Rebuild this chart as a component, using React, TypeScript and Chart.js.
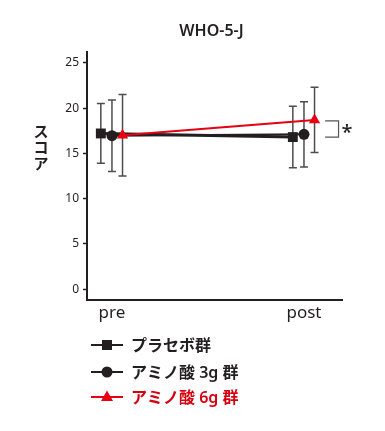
import React, { useEffect, useRef } from "react";
import { Chart, registerables } from "chart.js";

Chart.register(...registerables);

const chartTitle = "WHO-5-J";
const yAxisTitle = "スコア";
const categories = ["pre", "post"];
const yTicks = [0, 5, 10, 15, 20, 25];

const seriesNames = ["プラセボ群", "アミノ酸 3g 群", "アミノ酸 6g 群"];
const placeboMean = [17.2, 16.8];
const placeboSD = [3.3, 3.4];
const aa3Mean = [16.95, 17.1];
const aa3SD = [3.95, 3.6];
const aa6Mean = [17.0, 18.7];
const aa6SD = [4.5, 3.6];
const groupOffsets = [-0.058, 0, 0.055];

const DARK = "#231f20";
const RED = "#e60012";
const RED_TEXT = "#d7000f";
const ERR = "#4d4d4d";
const FONT = "'Noto Sans', 'Noto Sans CJK JP', sans-serif";

const means = [placeboMean, aa3Mean, aa6Mean];
const sds = [placeboSD, aa3SD, aa6SD];
const colors = [DARK, DARK, RED];
const styles = ["rect", "circle", "triangle"];
const radii = [7, 5.5, 6.5];
const widths = [3, 2, 2];

export default function App() {
  const ref = useRef<HTMLCanvasElement | null>(null);

  useEffect(() => {
    if (!ref.current) return;

    const datasets = means.map((m, i) => ({
      label: seriesNames[i],
      data: m.map((v, j) => ({ x: j + groupOffsets[i], y: v })),
      borderColor: colors[i],
      backgroundColor: colors[i],
      borderWidth: widths[i],
      pointStyle: styles[i] as any,
      pointRadius: radii[i],
      pointBorderWidth: 0,
      pointBackgroundColor: colors[i],
      showLine: true,
      order: 3 - i,
    }));

    const errorBars = {
      id: "errorBars",
      beforeDatasetsDraw(chart: any) {
        const { ctx, scales } = chart;
        const xs = scales.x;
        const ys = scales.y;
        ctx.save();
        ctx.strokeStyle = ERR;
        ctx.lineWidth = 1.5;
        means.forEach((m, i) => {
          m.forEach((v, j) => {
            const px = xs.getPixelForValue(j + groupOffsets[i]);
            const top = ys.getPixelForValue(v + sds[i][j]);
            const bot = ys.getPixelForValue(v - sds[i][j]);
            ctx.beginPath();
            ctx.moveTo(px, top);
            ctx.lineTo(px, bot);
            ctx.moveTo(px - 4, top);
            ctx.lineTo(px + 4, top);
            ctx.moveTo(px - 4, bot);
            ctx.lineTo(px + 4, bot);
            ctx.stroke();
          });
        });
        ctx.restore();
      },
    };

    const extras = {
      id: "extras",
      afterDraw(chart: any) {
        const { ctx, scales, chartArea } = chart;
        const xs = scales.x;
        const ys = scales.y;
        ctx.save();
        // title
        ctx.fillStyle = DARK;
        ctx.font = `600 16px ${FONT}`;
        ctx.textAlign = "center";
        ctx.textBaseline = "middle";
        ctx.fillText(chartTitle, (chartArea.left + chartArea.right) / 2 - 3, 31);
        // y title vertical
        ctx.font = `600 15px ${FONT}`;
        const chars = Array.from(yAxisTitle);
        const midY = ys.getPixelForValue(15.5);
        chars.forEach((c, k) => {
          ctx.fillText(c, 41, midY + (k - (chars.length - 1) / 2) * 16);
        });
        // significance bracket
        const bx0 = xs.getPixelForValue(1 + 0.11);
        const bx1 = xs.getPixelForValue(1 + 0.18);
        const by0 = ys.getPixelForValue(aa6Mean[1]) + 1;
        const by1 = ys.getPixelForValue(placeboMean[1]);
        ctx.strokeStyle = "#555";
        ctx.lineWidth = 1.2;
        ctx.beginPath();
        ctx.moveTo(bx0, by0);
        ctx.lineTo(bx1, by0);
        ctx.lineTo(bx1, by1);
        ctx.lineTo(bx0, by1);
        ctx.stroke();
        ctx.fillStyle = DARK;
        ctx.font = `500 20px ${FONT}`;
        ctx.textAlign = "left";
        ctx.fillText("*", bx1 + 3, (by0 + by1) / 2 + 4);
        // legend
        const lx0 = 91;
        const lx1 = 123;
        const tx = 131;
        const rowY = [345, 372, 397];
        seriesNames.forEach((name, i) => {
          const y = rowY[i];
          ctx.strokeStyle = colors[i];
          ctx.lineWidth = 2;
          ctx.beginPath();
          ctx.moveTo(lx0, y);
          ctx.lineTo(lx1, y);
          ctx.stroke();
          ctx.fillStyle = colors[i];
          const cx = (lx0 + lx1) / 2;
          ctx.beginPath();
          if (styles[i] === "rect") {
            ctx.rect(cx - 5, y - 5, 10, 10);
          } else if (styles[i] === "circle") {
            ctx.arc(cx, y, 5.5, 0, Math.PI * 2);
          } else {
            ctx.moveTo(cx, y - 6.5);
            ctx.lineTo(cx + 6, y + 4);
            ctx.lineTo(cx - 6, y + 4);
            ctx.closePath();
          }
          ctx.fill();
          ctx.fillStyle = i === 2 ? RED_TEXT : DARK;
          ctx.font = `600 16px ${FONT}`;
          ctx.textAlign = "left";
          ctx.textBaseline = "middle";
          ctx.fillText(name, tx, y + 1);
        });
        ctx.restore();
      },
    };

    const chart = new Chart(ref.current, {
      type: "scatter",
      data: { datasets: datasets as any },
      options: {
        animation: false,
        responsive: false,
        maintainAspectRatio: false,
        layout: { padding: { left: 0, right: 43, top: 52, bottom: 0 } },
        plugins: {
          legend: { display: false },
          tooltip: { enabled: false },
          title: { display: false },
        },
        scales: {
          x: {
            type: "linear",
            min: -0.13,
            max: 1.198,
            grid: { display: false, drawTicks: false },
            border: { display: true, color: DARK, width: 2 },
            afterBuildTicks: (s: any) => {
              s.ticks = categories.map((_, i) => ({ value: i }));
            },
            afterFit: (s: any) => {
              s.height = 131;
            },
            ticks: {
              padding: 3,
              color: DARK,
              font: { family: FONT, size: 17 },
              callback: (v: any) => categories[Math.round(Number(v))] ?? "",
              maxRotation: 0,
              autoSkip: false,
            },
          },
          y: {
            type: "linear",
            min: -1.2,
            max: 26.2,
            grid: {
              drawOnChartArea: false,
              drawTicks: true,
              tickLength: 4,
              tickColor: DARK,
              tickWidth: 1.5,
            },
            border: { display: true, color: DARK, width: 2 },
            afterBuildTicks: (s: any) => {
              s.ticks = yTicks.map((v) => ({ value: v }));
            },
            afterFit: (s: any) => {
              s.width = 87;
            },
            ticks: {
              padding: 4,
              color: DARK,
              font: { family: FONT, size: 12 },
            },
          },
        },
      },
      plugins: [errorBars, extras],
    });
    return () => chart.destroy();
  }, []);

  return (
    <div style={{ position: "fixed", left: 0, top: 0, width: 385, height: 431, background: "#fff" }}>
      <canvas ref={ref} width={385} height={431} style={{ width: 385, height: 431 }} />
    </div>
  );
}
